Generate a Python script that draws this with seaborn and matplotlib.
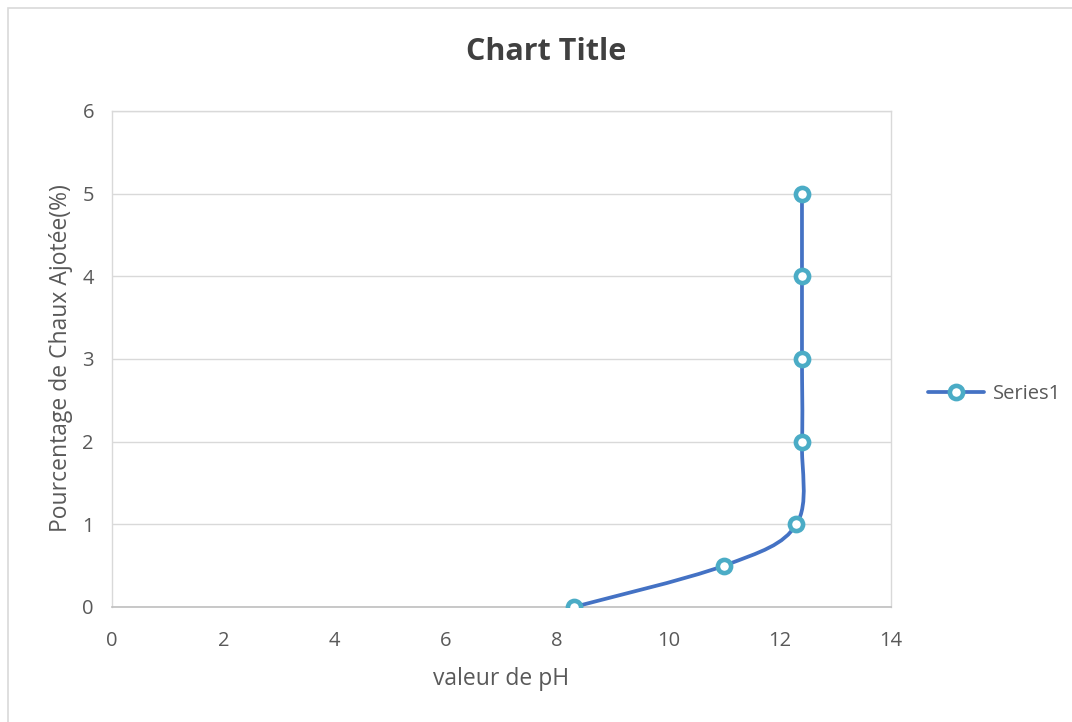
import numpy as np
import matplotlib
matplotlib.use("Agg")
import matplotlib.pyplot as plt
from matplotlib.path import Path
from matplotlib.patches import PathPatch, Rectangle
from matplotlib.lines import Line2D
import seaborn as sns
import pandas as pd

# pH measured against lime added (%)
ph_values = [8.3, 11.0, 12.3, 12.4, 12.4, 12.4, 12.4]
lime_pct = [0, 0.5, 1, 2, 3, 4, 5]
series_name = "Series1"
x_ticks = [0, 2, 4, 6, 8, 10, 12, 14]
y_ticks = [0, 1, 2, 3, 4, 5, 6]

LINE_BLUE = "#4472C4"
MARKER_EDGE = "#4BACC6"
TEXT = "#595959"

sns.set_theme(style="white")
plt.rcParams["font.family"] = ["Open Sans", "DejaVu Sans"]

df = pd.DataFrame({"ph": ph_values, "lime": lime_pct})

fig = plt.figure(figsize=(10.72, 7.22), dpi=100)
ax = fig.add_axes([112 / 1072, 1 - 607 / 722, (891 - 112) / 1072, (607 - 111) / 722])

# chart frame
fig.patches.append(Rectangle((8 / 1072, -0.05), 1.1, 1 - 8 / 722 + 0.05,
                             transform=fig.transFigure, fill=False,
                             edgecolor="#D9D9D9", linewidth=1.2))


def smooth_path(xs, ys):
    """Cubic Bezier path through the points (Catmull-Rom style smoothing)."""
    pts = np.column_stack([xs, ys]).astype(float)
    n = len(pts)
    verts = [pts[0]]
    codes = [Path.MOVETO]
    for i in range(n - 1):
        p0 = pts[i - 1] if i > 0 else pts[i]
        p1 = pts[i]
        p2 = pts[i + 1]
        p3 = pts[i + 2] if i + 2 < n else pts[i + 1]
        c1 = p1 + (p2 - p0) / 6.0
        c2 = p2 - (p3 - p1) / 6.0
        verts += [c1, c2, p2]
        codes += [Path.CURVE4] * 3
    return Path(verts, codes)


ax.add_patch(PathPatch(smooth_path(df["ph"], df["lime"]), facecolor="none",
                       edgecolor=LINE_BLUE, linewidth=2.7, capstyle="round",
                       zorder=3))

sns.scatterplot(data=df, x="ph", y="lime", ax=ax, s=90, marker="o",
                facecolor="white", edgecolor=MARKER_EDGE, linewidth=3.3,
                zorder=4, legend=False)

ax.set_xlim(0, 14)
ax.set_ylim(0, 6)
ax.set_xticks(x_ticks)
ax.set_yticks(y_ticks)
ax.yaxis.grid(True, color="#D9D9D9", linewidth=1.0)
ax.xaxis.grid(False)
ax.set_axisbelow(True)
for side in ["top", "right", "left"]:
    ax.spines[side].set_color("#D9D9D9")
    ax.spines[side].set_linewidth(1.0)
ax.spines["bottom"].set_color("#BFBFBF")
ax.spines["bottom"].set_linewidth(1.2)
ax.tick_params(axis="both", length=0, labelsize=14.5, colors=TEXT)
ax.tick_params(axis="x", pad=17)
ax.tick_params(axis="y", pad=13)

ax.set_xlabel("valeur de pH", fontsize=16.5, color=TEXT)
ax.set_ylabel("Pourcentage de Chaux Ajotée(%)", fontsize=16.5, color=TEXT)
ax.xaxis.set_label_coords((501 - 112) / 779, -(667 - 607) / 496)
ax.yaxis.set_label_coords(-(112 - 73) / 779, (607 - 358) / 496)

fig.text(546 / 1072, 1 - 52 / 722, "Chart Title", ha="center", va="center",
         fontsize=22, fontweight="bold", color="#404040")

handle = Line2D([], [], color=LINE_BLUE, linewidth=2.7, marker="o",
                markersize=9.5, markerfacecolor="white",
                markeredgecolor=MARKER_EDGE, markeredgewidth=3.3)
fig.legend([handle], [series_name], loc="center left",
           bbox_to_anchor=(918 / 1072, 1 - 394 / 722), frameon=False,
           fontsize=14.5, labelcolor=TEXT, handlelength=2.8, handletextpad=0.4,
           borderpad=0)

fig.savefig("out.png", dpi=100, facecolor="white")
